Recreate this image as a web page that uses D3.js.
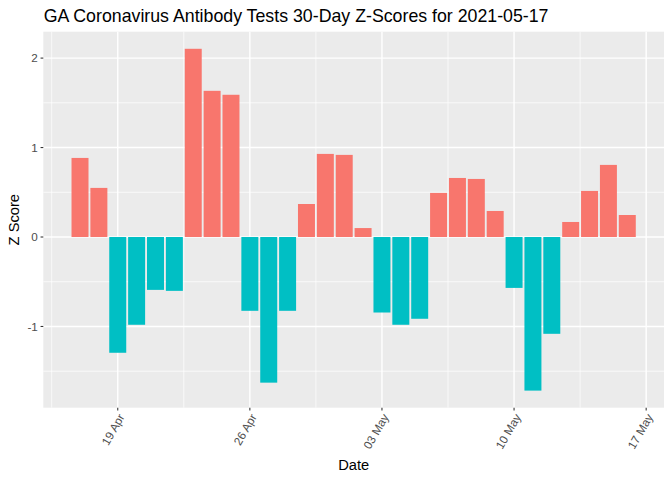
<!DOCTYPE html>
<html>
<head>
<meta charset="utf-8">
<script src="https://cdn.jsdelivr.net/npm/d3@7"></script>
<style>
  html, body { margin: 0; padding: 0; background: #fff; }
  text { font-family: "Liberation Sans", Arial, sans-serif; }
</style>
</head>
<body>
<svg id="chart" width="672" height="480"></svg>
<script>
const titleText = "GA Coronavirus Antibody Tests 30-Day Z-Scores for 2021-05-17";
const dates = [
  "2021-04-17","2021-04-18","2021-04-19","2021-04-20","2021-04-21","2021-04-22",
  "2021-04-23","2021-04-24","2021-04-25","2021-04-26","2021-04-27","2021-04-28",
  "2021-04-29","2021-04-30","2021-05-01","2021-05-02","2021-05-03","2021-05-04",
  "2021-05-05","2021-05-06","2021-05-07","2021-05-08","2021-05-09","2021-05-10",
  "2021-05-11","2021-05-12","2021-05-13","2021-05-14","2021-05-15","2021-05-16"
];
const zScores = [
  0.884, 0.549, -1.294, -0.981, -0.591, -0.602,
  2.104, 1.634, 1.590, -0.825, -1.628, -0.825,
  0.369, 0.929, 0.918, 0.100, -0.844, -0.981,
  -0.914, 0.493, 0.660, 0.649, 0.291, -0.569,
  -1.717, -1.082, 0.168, 0.515, 0.806, 0.246
];
const xTickDates = ["2021-04-19","2021-04-26","2021-05-03","2021-05-10","2021-05-17"];
const xTickLabels = ["19 Apr","26 Apr","03 May","10 May","17 May"];
const yTicks = [-1, 0, 1, 2];
const yMinorTicks = [-1.5, -0.5, 0.5, 1.5];
const posColor = "#F8766D", negColor = "#00BFC4";

const parse = d3.utcParse("%Y-%m-%d");
const DAY = 864e5;
const data = dates.map((d, i) => ({ date: parse(d), z: zScores[i] }));

const panel = { left: 43.3, right: 664, top: 31.7, bottom: 407.7 };
const svg = d3.select("#chart");

// x domain: ggplot continuous expansion (5%) around bar extents
const barHalf = 0.45 * DAY;
const xMin = d3.min(data, d => +d.date) - barHalf;
const xMax = d3.max(data, d => +d.date) + barHalf;
const xPad = (xMax - xMin) * 0.05;
const x = d3.scaleUtc().domain([new Date(xMin - xPad), new Date(xMax + xPad)])
  .range([panel.left, panel.right]);

const yMinD = d3.min(zScores), yMaxD = d3.max(zScores);
const yPad = (yMaxD - yMinD) * 0.05;
const y = d3.scaleLinear().domain([yMinD - yPad, yMaxD + yPad])
  .range([panel.bottom, panel.top]);

// panel background
svg.append("rect")
  .attr("x", panel.left).attr("y", panel.top)
  .attr("width", panel.right - panel.left).attr("height", panel.bottom - panel.top)
  .attr("fill", "#EBEBEB");

const majorX = xTickDates.map(parse);
const minorX = [];
for (let i = -1; i < majorX.length; i++) {
  const a = i >= 0 ? +majorX[i] : +majorX[0] - 7 * DAY;
  const m = new Date(a + 3.5 * DAY);
  if (+m >= x.domain()[0] && +m <= x.domain()[1]) minorX.push(m);
}

const grid = svg.append("g");
grid.selectAll(".ymin").data(yMinorTicks).join("line")
  .attr("x1", panel.left).attr("x2", panel.right)
  .attr("y1", d => y(d)).attr("y2", d => y(d))
  .attr("stroke", "#fff").attr("stroke-width", 0.7);
grid.selectAll(".xmin").data(minorX).join("line")
  .attr("y1", panel.top).attr("y2", panel.bottom)
  .attr("x1", d => x(d)).attr("x2", d => x(d))
  .attr("stroke", "#fff").attr("stroke-width", 0.7);
grid.selectAll(".ymaj").data(yTicks).join("line")
  .attr("x1", panel.left).attr("x2", panel.right)
  .attr("y1", d => y(d)).attr("y2", d => y(d))
  .attr("stroke", "#fff").attr("stroke-width", 1.4);
grid.selectAll(".xmaj").data(majorX.filter(d => x(d) <= panel.right)).join("line")
  .attr("y1", panel.top).attr("y2", panel.bottom)
  .attr("x1", d => x(d)).attr("x2", d => x(d))
  .attr("stroke", "#fff").attr("stroke-width", 1.4);

// bars
const bw = x(new Date(+data[0].date + 0.45 * DAY)) - x(new Date(+data[0].date - 0.45 * DAY));
svg.append("g").selectAll("rect").data(data).join("rect")
  .attr("x", d => x(d.date) - bw / 2)
  .attr("width", bw)
  .attr("y", d => y(Math.max(0, d.z)))
  .attr("height", d => Math.abs(y(d.z) - y(0)))
  .attr("fill", d => d.z >= 0 ? posColor : negColor);

// y axis
const yAxis = svg.append("g");
yAxis.selectAll("line").data(yTicks).join("line")
  .attr("x1", panel.left - 2.74).attr("x2", panel.left)
  .attr("y1", d => y(d)).attr("y2", d => y(d))
  .attr("stroke", "#333333").attr("stroke-width", 1.07);
yAxis.selectAll("text").data(yTicks).join("text")
  .attr("x", panel.left - 5.5).attr("y", d => y(d))
  .attr("dy", "0.35em")
  .attr("text-anchor", "end")
  .attr("font-size", "11.7px").attr("fill", "#4D4D4D")
  .text(d => d3.format("d")(d).replace("\u2212", "-"));

// x axis
const xAxis = svg.append("g");
xAxis.selectAll("line").data(majorX).join("line")
  .attr("x1", d => x(d)).attr("x2", d => x(d))
  .attr("y1", panel.bottom).attr("y2", panel.bottom + 2.74)
  .attr("stroke", "#333333").attr("stroke-width", 1.07);
xAxis.selectAll("text").data(majorX).join("text")
  .attr("transform", d => `translate(${x(d)},${panel.bottom + 5})rotate(-60)`)
  .attr("dy", "0.72em")
  .attr("text-anchor", "end")
  .attr("font-size", "11.7px").attr("fill", "#4D4D4D")
  .text((d, i) => xTickLabels[i]);

// axis titles
svg.append("text")
  .attr("x", (panel.left + panel.right) / 2).attr("y", 470)
  .attr("text-anchor", "middle").attr("font-size", "14.7px").attr("fill", "#000")
  .text("Date");
svg.append("text")
  .attr("transform", `translate(19,${(panel.top + panel.bottom) / 2})rotate(-90)`)
  .attr("text-anchor", "middle").attr("font-size", "14.7px").attr("fill", "#000")
  .text("Z Score");

// title
svg.append("text")
  .attr("x", panel.left + 0.4).attr("y", 21.7)
  .attr("font-size", "17.75px").attr("fill", "#000")
  .text(titleText);
</script>
</body>
</html>
